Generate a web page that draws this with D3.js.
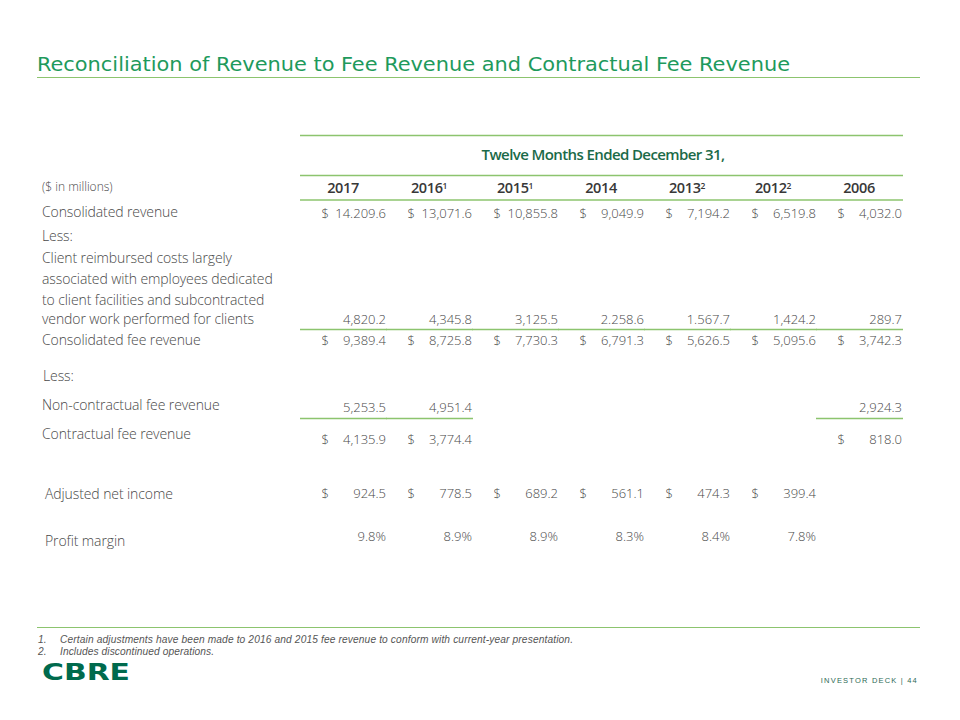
<!DOCTYPE html>
<html>
<head>
<meta charset="utf-8">
<script src="https://cdn.jsdelivr.net/npm/d3@7"></script>
<style>
  body { margin: 0; background: #fff; }
  svg { display: block; }
</style>
</head>
<body>
<div id="slide"></div>
<script>
// table data
var years = ["2017", "2016", "2015", "2014", "2013", "2012", "2006"];
var yearNotes = ["", "1", "1", "", "2", "2", ""];
var consolidatedRevenue = ["14.209.6", "13,071.6", "10,855.8", "9,049.9", "7,194.2", "6,519.8", "4,032.0"];
var reimbursedCosts = ["4,820.2", "4,345.8", "3,125.5", "2.258.6", "1.567.7", "1,424.2", "289.7"];
var feeRevenue = ["9,389.4", "8,725.8", "7,730.3", "6,791.3", "5,626.5", "5,095.6", "3,742.3"];
var nonContractual = ["5,253.5", "4,951.4", null, null, null, null, "2,924.3"];
var contractual = ["4,135.9", "3,774.4", null, null, null, null, "818.0"];
var adjNetIncome = ["924.5", "778.5", "689.2", "561.1", "474.3", "399.4", null];
var profitMargin = ["9.8%", "8.9%", "8.9%", "8.3%", "8.4%", "7.8%", null];
var footnotes = [
  "Certain adjustments have been made to 2016 and 2015 fee revenue to conform with current-year presentation.",
  "Includes discontinued operations."
];

var W = 960, H = 720;
var green = "#1e9a5c", lineGreen = "#8cc46e", textCol = "#484848";

var svg = d3.select("#slide").append("svg").attr("width", W).attr("height", H);

// title
svg.append("text").attr("x", 37).attr("y", 71)
  .attr("font-family", "DejaVu Sans Condensed, DejaVu Sans").attr("font-size", 19)
  .attr("fill", green).attr("textLength", 753).attr("lengthAdjust", "spacingAndGlyphs")
  .text("Reconciliation of Revenue to Fee Revenue and Contractual Fee Revenue");
svg.append("line").attr("x1", 37).attr("x2", 920).attr("y1", 77.5).attr("y2", 77.5)
  .attr("stroke", lineGreen).attr("stroke-width", 1);

var x = d3.scaleBand().domain(years).range([300, 902]);

function hline(x1, x2, y) {
  svg.append("line").attr("x1", x1).attr("x2", x2).attr("y1", y).attr("y2", y)
    .attr("stroke", lineGreen).attr("stroke-width", 1.3);
}

var body = "'Open Sans', sans-serif";

// header
hline(300, 903, 135.5);
svg.append("text").attr("x", 603).attr("y", 160).attr("text-anchor", "middle")
  .attr("font-family", body).attr("font-size", 15).attr("font-weight", 600)
  .attr("letter-spacing", -0.6).attr("fill", "#1b6a48")
  .text("Twelve Months Ended December 31,");
hline(300, 903, 175.5);

var yr = svg.selectAll(".yr").data(years).enter().append("text")
  .attr("class", "yr")
  .attr("x", function(d) { return x(d) + x.bandwidth() / 2; })
  .attr("y", 193).attr("text-anchor", "middle")
  .attr("font-family", body).attr("font-size", 14.5).attr("font-weight", 600)
  .attr("letter-spacing", -0.4).attr("fill", "#383838");
yr.append("tspan").text(function(d) { return d; });
yr.append("tspan").attr("font-size", 8.5).attr("dy", -4)
  .text(function(d, i) { return yearNotes[i]; });
hline(300, 903, 200);

svg.append("text").attr("x", 42).attr("y", 191)
  .attr("font-family", body).attr("font-size", 12).attr("font-weight", 300)
  .attr("fill", textCol).text("($ in millions)");

// row labels
var labels = [
  { t: "Consolidated revenue", x: 42, y: 217 },
  { t: "Less:", x: 42, y: 241 },
  { t: "Client reimbursed costs largely", x: 42, y: 263 },
  { t: "associated with employees dedicated", x: 42, y: 284 },
  { t: "to client facilities and subcontracted", x: 42, y: 305 },
  { t: "vendor work performed for clients", x: 42, y: 324 },
  { t: "Consolidated fee revenue", x: 42, y: 345 },
  { t: "Less:", x: 43, y: 381 },
  { t: "Non-contractual fee revenue", x: 42, y: 410 },
  { t: "Contractual fee revenue", x: 42, y: 439 },
  { t: "Adjusted net income", x: 45, y: 499 },
  { t: "Profit margin", x: 45, y: 546 }
];
svg.selectAll(".lbl").data(labels).enter().append("text")
  .attr("class", "lbl")
  .attr("x", function(d) { return d.x; }).attr("y", function(d) { return d.y; })
  .attr("font-family", body).attr("font-size", 14).attr("font-weight", 300)
  .attr("letter-spacing", -0.1)
  .attr("fill", textCol).text(function(d) { return d.t; });

// value rows
function valueRow(vals, y, dollar, underlineY) {
  var cells = years.map(function(d, i) { return { year: d, v: vals[i] }; })
    .filter(function(c) { return c.v !== null; });
  var g = svg.append("g");
  g.selectAll("text.v").data(cells).enter().append("text")
    .attr("class", "v")
    .attr("x", function(c) { return x(c.year) + x.bandwidth(); })
    .attr("y", y).attr("text-anchor", "end")
    .attr("font-family", body).attr("font-size", 13).attr("font-weight", 300)
    .attr("fill", textCol).text(function(c) { return c.v; });
  if (dollar) {
    g.selectAll("text.d").data(cells).enter().append("text")
      .attr("class", "d")
      .attr("x", function(c) { return x(c.year) + 21.5; })
      .attr("y", y)
      .attr("font-family", body).attr("font-size", 13).attr("font-weight", 300)
      .attr("fill", textCol).text("$");
  }
  if (underlineY) {
    cells.forEach(function(c) {
      hline(x(c.year), x(c.year) + x.bandwidth() + 1, underlineY);
    });
  }
}

valueRow(consolidatedRevenue, 218, true);
valueRow(reimbursedCosts, 324, false, 329.5);
valueRow(feeRevenue, 345, true);
valueRow(nonContractual, 412, false, 418.5);
valueRow(contractual, 444, true);
valueRow(adjNetIncome, 498, true);
valueRow(profitMargin, 541, false);

// footer
svg.append("line").attr("x1", 37).attr("x2", 920).attr("y1", 627.5).attr("y2", 627.5)
  .attr("stroke", lineGreen).attr("stroke-width", 1);
var fnWidth = [513, 154];
var fn = svg.selectAll(".fn").data(footnotes).enter().append("g")
  .attr("class", "fn")
  .attr("font-family", "'Liberation Sans', sans-serif").attr("font-size", 10.2)
  .attr("font-style", "italic").attr("fill", "#555");
fn.append("text").attr("x", 38).attr("y", function(d, i) { return 643 + i * 12; })
  .text(function(d, i) { return (i + 1) + "."; });
fn.append("text").attr("x", 60).attr("y", function(d, i) { return 643 + i * 12; })
  .attr("textLength", function(d, i) { return fnWidth[i]; })
  .attr("lengthAdjust", "spacing")
  .text(function(d) { return d; });

svg.append("text").attr("x", 42).attr("y", 680)
  .attr("font-family", "'DejaVu Sans', sans-serif").attr("font-size", 23.5).attr("font-weight", "bold")
  .attr("fill", "#006a4d").attr("textLength", 88).attr("lengthAdjust", "spacingAndGlyphs")
  .text("CBRE");

svg.append("text").attr("x", 918).attr("y", 683).attr("text-anchor", "end")
  .attr("font-family", "'Liberation Sans', sans-serif").attr("font-size", 7.5)
  .attr("letter-spacing", 1.2).attr("fill", "#2d6b55")
  .text("INVESTOR DECK   |  44");
</script>
</body>
</html>
